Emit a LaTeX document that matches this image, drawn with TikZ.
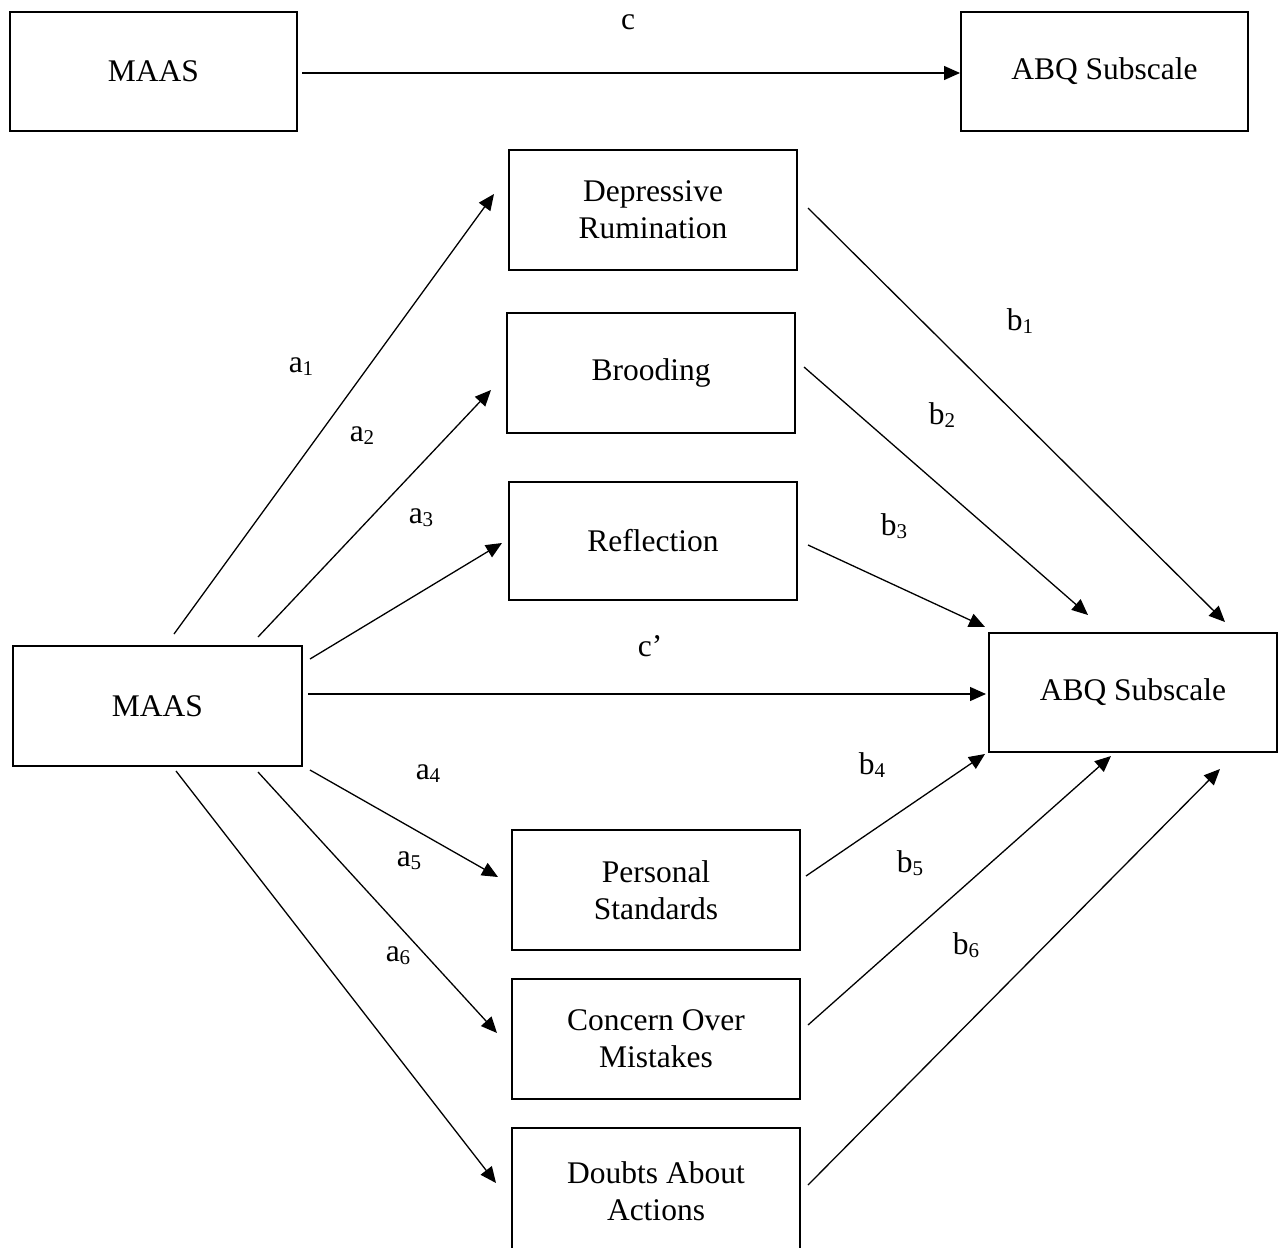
\documentclass[tikz,border=0pt]{standalone}
\usepackage{fontspec}
\setmainfont{Liberation Serif}
\usetikzlibrary{arrows.meta}
\newcommand{\sbs}[1]{\raisebox{-3pt}{\fontsize{21}{21}\selectfont #1}}
\begin{document}
\begin{tikzpicture}[x=1pt,y=-1pt,
  box/.style={draw, line width=2.5pt, inner sep=0pt, align=center,
    minimum width=288pt, minimum height=120pt, font=\fontsize{31.5}{37}\selectfont},
  arr/.style={line width=1.3pt, -{Triangle[length=16pt,width=14pt]}},
  lbl/.style={font=\fontsize{31.5}{37}\selectfont, inner sep=0pt}]
\useasboundingbox (0,0) rectangle (1279,1247);
\fill[white] (0,0) rectangle (1279,1247);

% boxes
\node[box, minimum width=287pt, minimum height=119pt] (m1) at (153.5,71.5) {MAAS};
\node[box, minimum width=287pt, minimum height=119pt] (y1) at (1104.5,71.5) {ABQ Subscale};
\node[box] (dr) at (653,210) {Depressive\\Rumination};
\node[box] (br) at (651,373) {Brooding};
\node[box, minimum height=118pt] (rf) at (653,541) {Reflection};
\node[box, minimum width=289pt] (m2) at (157.5,706) {MAAS};
\node[box, minimum height=119pt] (y2) at (1133,692.5) {ABQ Subscale};
\node[box] (ps) at (656,890) {Personal\\Standards};
\node[box] (cm) at (656,1039) {Concern Over\\Mistakes};
\node[box, minimum height=126pt] (da) at (656,1191) {Doubts About\\Actions};

% connector end points
\coordinate (cs) at (302,73);   \coordinate (ce) at (960,73);
\coordinate (a1s) at (174,634); \coordinate (a1e) at (494,194);
\coordinate (a2s) at (258,637); \coordinate (a2e) at (491,390);
\coordinate (a3s) at (310,659); \coordinate (a3e) at (502,543);
\coordinate (cps) at (308,694); \coordinate (cpe) at (986,694);
\coordinate (a4s) at (310,770); \coordinate (a4e) at (498,877);
\coordinate (a5s) at (258,772); \coordinate (a5e) at (497,1033);
\coordinate (a6s) at (176,771); \coordinate (a6e) at (496,1183);
\coordinate (b1s) at (808,208); \coordinate (b1e) at (1225,622);
\coordinate (b2s) at (804,367); \coordinate (b2e) at (1088,615);
\coordinate (b3s) at (808,545); \coordinate (b3e) at (985,627);
\coordinate (b4s) at (806,876); \coordinate (b4e) at (985,754);
\coordinate (b5s) at (808,1025); \coordinate (b5e) at (1111,756);
\coordinate (b6s) at (808,1185); \coordinate (b6e) at (1220,769);

\draw[arr] (cs) -- (ce);
\draw[arr] (a1s) -- (a1e);
\draw[arr] (a2s) -- (a2e);
\draw[arr] (a3s) -- (a3e);
\draw[arr] (cps) -- (cpe);
\draw[arr] (a4s) -- (a4e);
\draw[arr] (a5s) -- (a5e);
\draw[arr] (a6s) -- (a6e);
\draw[arr] (b1s) -- (b1e);
\draw[arr] (b2s) -- (b2e);
\draw[arr] (b3s) -- (b3e);
\draw[arr] (b4s) -- (b4e);
\draw[arr] (b5s) -- (b5e);
\draw[arr] (b6s) -- (b6e);

% labels
\node[lbl] (lc) at (628,22) {c};
\node[lbl] (lcp) at (650,646) {c’};
\node[lbl] (la1) at (301,367) {a\sbs{1}};
\node[lbl] (la2) at (362,436) {a\sbs{2}};
\node[lbl] (la3) at (421,518) {a\sbs{3}};
\node[lbl] (la4) at (428,774) {a\sbs{4}};
\node[lbl] (la5) at (409,861) {a\sbs{5}};
\node[lbl] (la6) at (398,956) {a\sbs{6}};
\node[lbl] (lb1) at (1020,321) {b\sbs{1}};
\node[lbl] (lb2) at (942,415) {b\sbs{2}};
\node[lbl] (lb3) at (894,526) {b\sbs{3}};
\node[lbl] (lb4) at (872,765) {b\sbs{4}};
\node[lbl] (lb5) at (910,863) {b\sbs{5}};
\node[lbl] (lb6) at (966,945) {b\sbs{6}};
\end{tikzpicture}
\end{document}
